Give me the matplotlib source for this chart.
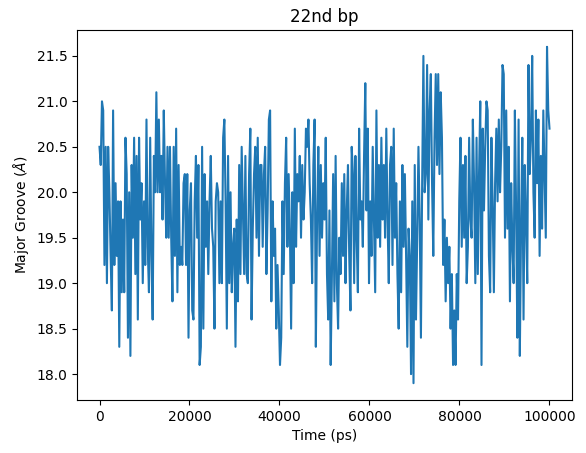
import numpy as np
import matplotlib
matplotlib.use("Agg")
import matplotlib.pyplot as plt

# major groove width readings, 22nd bp left to right
seg1 = [20.5, 20.3, 21.0, 20.9, 19.2, 20.5, 19.0, 20.5, 20.0, 19.3, 18.7, 20.9, 19.2, 20.1, 19.3,
        19.9, 18.3, 19.9, 18.9, 19.7, 18.9, 20.6, 20.2, 18.4, 20.0, 18.2, 20.3, 19.5, 20.6, 19.1,
        20.4, 18.6, 20.6, 19.7, 20.1, 19.0, 19.9, 19.2, 20.8, 19.4, 18.9, 20.6, 19.3, 18.6, 20.4,
        20.0, 21.1, 20.0, 20.8, 20.0, 20.4, 19.7, 20.9, 20.1, 19.5, 20.5, 19.5]
seg2 = [20.5, 19.5, 18.8, 20.5, 19.3, 20.7, 18.9, 20.3, 19.2, 19.4, 19.2, 20.1, 20.2, 19.2, 20.2,
        18.4, 19.8, 20.1, 18.7, 18.6, 19.9, 20.4, 19.5, 20.3, 18.1, 18.3, 20.5, 18.5, 20.2, 19.4,
        19.9, 19.1, 19.9, 20.4, 19.6, 19.4, 18.5, 19.9, 20.1, 20.0, 19.0, 19.9, 19.0, 20.6, 20.8,
        19.9, 18.5, 20.4, 19.0, 20.0, 18.9, 19.4, 19.6, 18.3, 19.7, 18.8, 20.3, 19.1, 20.5, 19.8,
        19.1]
seg3 = [20.4, 19.1, 19.0, 20.2, 20.7, 18.6, 19.6, 20.2, 20.5, 19.5, 20.6, 19.3, 20.3, 20.3, 19.4,
        20.2, 20.5, 19.1, 19.8, 20.8, 20.9, 18.8, 19.9, 19.3, 19.6, 18.5, 19.2, 18.7, 18.1, 18.4,
        19.9, 19.1, 20.1, 20.6, 19.4, 20.2, 19.6, 18.5, 20.0, 19.0, 20.7, 19.4, 20.2, 19.9, 20.4,
        19.5, 20.3, 19.7, 20.0, 20.7, 20.5, 20.8, 20.1, 19.7, 19.0, 20.3, 20.8, 18.3]
seg4 = [19.7, 20.5, 19.3, 20.3, 19.5, 20.1, 19.7, 20.6, 19.1, 18.6, 19.8, 18.1, 19.1, 20.2, 18.8,
        20.4, 19.0, 18.5, 19.5, 19.1, 20.1, 19.3, 20.2, 19.0, 19.8, 20.3, 19.3, 18.7, 20.5, 20.2,
        19.0, 20.4, 19.5, 18.9, 20.7, 19.7, 19.9, 19.4, 20.4, 21.2, 19.8, 20.7, 19.0, 19.9, 19.3,
        20.5, 19.7, 18.9, 20.9, 19.5, 20.3, 19.4, 20.6, 19.7, 20.3, 19.5, 20.7, 19.7, 19.0]
seg5 = [20.3, 20.5, 19.2, 20.7, 19.5, 20.1, 19.1, 18.5, 19.9, 18.9, 20.3, 19.4, 20.2, 19.3, 18.3,
        19.6, 19.3, 18.0, 19.9, 17.9, 20.3, 18.6, 19.5, 20.5, 19.7, 18.4, 20.1, 21.5, 20.0, 20.2,
        21.4, 19.7, 20.9, 21.3, 20.1, 19.3, 20.6, 21.3, 20.3, 21.3, 20.2, 21.1, 20.6, 19.2, 19.7,
        18.8, 19.5, 19.0, 19.4, 18.5, 19.1, 18.1, 18.7, 18.1, 19.1, 18.6, 19.9, 20.6, 19.4, 20.3,
        19.5]
seg6 = [20.4, 19.0, 19.4, 20.6, 19.7, 19.5, 20.8, 20.1, 19.0, 20.6, 19.1, 20.2, 21.0, 18.1, 20.7,
        19.8, 20.5, 21.0, 20.9, 19.3, 18.9, 20.6, 19.9, 18.9, 20.1, 20.7, 19.9, 20.8, 20.0, 20.5,
        21.4, 21.3, 19.5, 20.9, 19.6, 20.5, 18.8, 20.1, 19.4, 19.0, 20.9, 19.8, 18.4, 20.8, 18.2,
        19.6, 20.6, 18.6, 20.3, 19.7, 19.0, 21.4, 20.2, 20.6, 21.5, 20.0, 19.5, 20.9, 20.1, 20.8,
        19.3, 20.4, 19.6, 20.9, 20.2, 19.5, 21.6, 20.9, 20.7]

groove = np.array(seg1 + seg2 + seg3 + seg4 + seg5 + seg6)
time_ps = np.linspace(0, 100000, len(groove))

fig = plt.figure(figsize=(5.86, 4.53), dpi=100)
ax = fig.add_axes([0.1314, 0.117, 0.8447, 0.8168])
ax.plot(time_ps, groove)
ax.set_title("22nd bp")
ax.set_xlabel("Time (ps)")
ax.set_ylabel(r"Major Groove ($\AA$)")

fig.savefig("out.png", dpi=100)
